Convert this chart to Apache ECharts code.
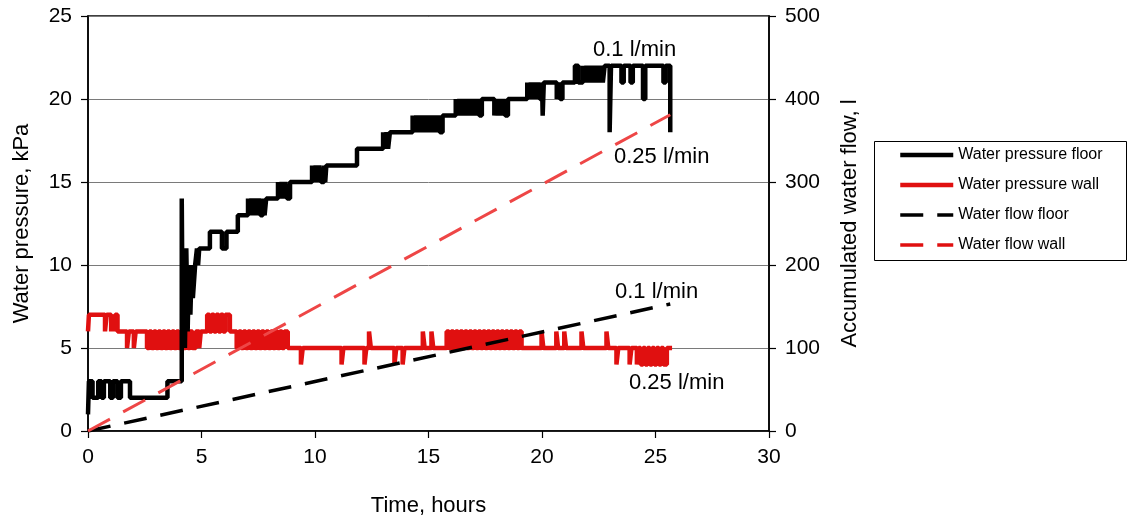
<!DOCTYPE html>
<html>
<head>
<meta charset="utf-8">
<script src="https://cdn.jsdelivr.net/npm/echarts@6/dist/echarts.min.js"></script>
<style>
  html, body { margin: 0; padding: 0; background: #fff; }
  #chart { width: 1129px; height: 522px; }
</style>
</head>
<body>
<div id="chart"></div>
<script>
// Logged water pressure (kPa) as change points [hours, kPa]; each value holds until the next point.
const floorPressure = [
  [0,1],[0.04,3],[0.2,2],[0.45,3],[0.6,2],[0.7,3],[0.98,2],[1.1,3],[1.3,2],[1.45,3],[1.85,2],
  [3.5,3],[4.13,14],[4.17,6],[4.22,11],[4.27,5],[4.33,11],[4.39,6],[4.45,10],[4.51,7],[4.57,10],
  [4.62,8],[4.67,9],[4.72,10],[4.8,11],[4.85,10],[4.9,11],[5.37,12],[5.9,11],[6.1,12],[6.6,13],
  [7.05,14],[7.12,13],[7.2,14],[7.28,13],[7.36,14],[7.44,13],[7.52,14],[7.6,13],[7.7,14],[7.78,13],[7.85,14],
  [8.37,15],[8.45,14],[8.53,15],[8.61,14],[8.69,15],[8.77,14],[8.9,15],
  [9.87,16],[9.95,15],[10.03,16],[10.11,15],[10.19,16],[10.27,15],[10.4,16],[10.45,15],[10.5,16],
  [11.85,17],[13.0,18],[13.08,17],[13.15,18],[13.22,17],[13.3,18],
  [14.3,19],[14.38,18],[14.46,19],[14.54,18],[14.62,19],[14.7,18],[14.78,19],[14.86,18],[14.94,19],
  [15.02,18],[15.1,19],[15.18,18],[15.26,19],[15.34,18],[15.42,19],[15.5,18],[15.62,19],
  [16.2,20],[16.28,19],[16.36,20],[16.44,19],[16.52,20],[16.6,19],[16.68,20],[16.76,19],[16.84,20],
  [16.92,19],[17.0,20],[17.08,19],[17.16,20],[17.24,19],[17.35,20],
  [17.9,19],[17.98,20],[18.06,19],[18.14,20],[18.22,19],[18.3,20],[18.38,19],[18.5,20],
  [19.35,21],[19.43,20],[19.51,21],[19.59,20],[19.67,21],[19.75,20],[19.83,21],[19.91,20],[20.0,21],
  [20.03,19],[20.08,21],[20.65,20],[20.72,21],[20.8,20],[20.9,21],[21.45,22],[21.6,21],
  [21.8,22],[21.88,21],[21.96,22],[22.04,21],[22.12,22],[22.2,21],[22.28,22],[22.36,21],[22.44,22],
  [22.52,21],[22.6,22],[22.68,21],[22.76,22],[22.98,18],[23.04,22],[23.5,21],[23.6,22],[23.9,21],
  [24.0,22],[24.45,20],[24.55,22],[25.35,21],[25.45,22],[25.65,18]
];
const wallPressure = [
  [0,6],[0.04,7],[0.75,6],[0.82,7],[1.02,6],[1.08,7],[1.14,6],[1.2,7],[1.3,6],[1.72,5],[1.8,6],[2.02,5],[2.1,6],
  [2.6,5],[2.7,6],[2.8,5],[2.9,6],[3.0,5],[3.1,6],[3.2,5],[3.3,6],[3.4,5],[3.5,6],[3.6,5],[3.7,6],
  [3.8,5],[3.9,6],[4.0,5],[4.1,6],[4.2,5],[4.3,6],[4.4,5],[4.5,6],[4.6,5],[4.75,6],[4.9,5],[4.97,6],
  [5.25,7],[5.35,6],[5.45,7],[5.55,6],[5.65,7],[5.75,6],[5.85,7],[5.95,6],[6.05,7],[6.25,6],
  [6.55,5],[6.65,6],[6.75,5],[6.85,6],[6.95,5],[7.05,6],[7.15,5],[7.25,6],[7.35,5],[7.45,6],[7.55,5],
  [7.65,6],[7.75,5],[7.85,6],[7.95,5],[8.05,6],[8.15,5],[8.25,6],[8.35,5],[8.45,6],[8.55,5],[8.65,6],[8.8,5],
  [9.38,4],[9.46,5],[11.17,4],[11.25,5],[12.18,4],[12.26,5],[12.38,6],[12.46,5],[13.5,4],[13.58,5],
  [13.86,4],[13.94,5],[14.75,6],[14.83,5],[15.13,6],[15.21,5],
  [15.8,6],[15.9,5],[16.0,6],[16.1,5],[16.2,6],[16.3,5],[16.4,6],[16.5,5],[16.6,6],[16.7,5],[16.8,6],
  [16.9,5],[17.0,6],[17.1,5],[17.2,6],[17.3,5],[17.4,6],[17.5,5],[17.6,6],[17.7,5],[17.8,6],[17.9,5],
  [18.0,6],[18.1,5],[18.2,6],[18.3,5],[18.4,6],[18.5,5],[18.6,6],[18.7,5],[18.8,6],[18.9,5],[19.0,6],[19.1,5],
  [19.98,6],[20.06,5],[20.63,6],[20.71,5],[20.98,6],[21.06,5],[21.74,6],[21.82,5],[22.84,6],[22.92,5],
  [23.28,4],[23.36,5],[23.86,4],[23.94,5],[24.18,4],[24.26,5],
  [24.35,4],[24.45,5],[24.55,4],[24.65,5],[24.75,4],[24.85,5],[24.95,4],[25.05,5],[25.15,4],[25.25,5],
  [25.35,4],[25.5,5],[25.73,5]
];

// Accumulated water flow (litres) at start and end of the test.
const flowHours = [0, 25.65];
const flowFloor = [0, 153];
const flowWall = [0, 381];

const seriesNames = ['Water pressure floor', 'Water pressure wall', 'Water flow floor', 'Water flow wall'];
const xTicks = { min: 0, max: 30, interval: 5 };
const pressureTicks = { min: 0, max: 25, interval: 5 };
const flowTicks = { min: 0, max: 500, interval: 100 };

const FONT = '"Liberation Sans", Arial, sans-serif';
const RED = '#e01010';
const FLOW_RED = '#ee4646';

const lineStyles = {
  'Water pressure floor': { color: '#000', width: 4.5, type: 'solid' },
  'Water pressure wall': { color: RED, width: 4.5, type: 'solid' },
  'Water flow floor': { color: '#000', width: 3.5, type: [23, 14] },
  'Water flow wall': { color: RED, width: 3.5, type: [23, 14] }
};

const chart = echarts.init(document.getElementById('chart'), null, { renderer: 'canvas' });

const axisCommon = {
  axisLine: { show: true, lineStyle: { color: '#000', width: 1.5 } },
  axisTick: { show: true, inside: false, length: 7, lineStyle: { color: '#000', width: 1.2 } },
  axisLabel: { color: '#000', fontSize: 21, fontFamily: FONT, margin: 16 },
  nameTextStyle: { color: '#000', fontSize: 22, fontFamily: FONT }
};

chart.setOption({
  animation: false,
  backgroundColor: '#fff',
  grid: { left: 88, right: 360, top: 16, bottom: 87, show: true, borderColor: '#000', borderWidth: 1.5 },
  legend: {
    data: seriesNames.map(n => ({
      name: n,
      itemStyle: { opacity: 0 },
      lineStyle: lineStyles[n]
    })),
    orient: 'vertical',
    left: 898,
    top: 147,
    padding: 0,
    itemWidth: 53,
    itemHeight: 14,
    itemGap: 14,
    textStyle: { color: '#000', fontSize: 16, fontFamily: FONT }
  },
  xAxis: Object.assign({}, axisCommon, {
    type: 'value',
    min: xTicks.min, max: xTicks.max, interval: xTicks.interval,
    name: 'Time, hours',
    nameLocation: 'middle',
    nameGap: 64,
    splitLine: { show: false }
  }),
  yAxis: [
    Object.assign({}, axisCommon, {
      type: 'value',
      position: 'left',
      min: pressureTicks.min, max: pressureTicks.max, interval: pressureTicks.interval,
      name: 'Water pressure, kPa',
      nameLocation: 'middle',
      nameGap: 55,
      splitLine: { show: true, lineStyle: { color: '#7a7a7a', width: 1 } }
    }),
    Object.assign({}, axisCommon, {
      type: 'value',
      position: 'right',
      min: flowTicks.min, max: flowTicks.max, interval: flowTicks.interval,
      name: 'Accumulated water flow, l',
      nameLocation: 'middle',
      nameGap: 70,
      nameRotate: 90,
      splitLine: { show: false }
    })
  ],
  series: [
    {
      name: 'Water pressure wall',
      type: 'line',
      step: 'end',
      yAxisIndex: 0,
      symbol: 'none',
      data: wallPressure,
      lineStyle: lineStyles['Water pressure wall'],
      itemStyle: { color: RED }
    },
    {
      name: 'Water pressure floor',
      type: 'line',
      step: 'end',
      yAxisIndex: 0,
      symbol: 'none',
      data: floorPressure,
      lineStyle: lineStyles['Water pressure floor'],
      itemStyle: { color: '#000' }
    },
    {
      name: 'Water flow floor',
      type: 'line',
      yAxisIndex: 1,
      symbol: 'none',
      data: flowHours.map((t, i) => [t, flowFloor[i]]),
      lineStyle: lineStyles['Water flow floor'],
      itemStyle: { color: '#000' }
    },
    {
      name: 'Water flow wall',
      type: 'line',
      yAxisIndex: 1,
      symbol: 'none',
      data: flowHours.map((t, i) => [t, flowWall[i]]),
      lineStyle: { color: FLOW_RED, width: 3, type: [25, 15] },
      itemStyle: { color: RED }
    }
  ],
  graphic: [
    { type: 'rect', shape: { x: 874.5, y: 141.5, width: 252, height: 119 },
      style: { fill: 'none', stroke: '#000', lineWidth: 1 }, z: -1 },
    { type: 'text', x: 593, y: 50, style: { text: '0.1 l/min', font: '22px ' + FONT, fill: '#000', verticalAlign: 'middle' } },
    { type: 'text', x: 614, y: 157, style: { text: '0.25 l/min', font: '22px ' + FONT, fill: '#000', verticalAlign: 'middle' } },
    { type: 'text', x: 615, y: 292, style: { text: '0.1 l/min', font: '22px ' + FONT, fill: '#000', verticalAlign: 'middle' } },
    { type: 'text', x: 629, y: 383, style: { text: '0.25 l/min', font: '22px ' + FONT, fill: '#000', verticalAlign: 'middle' } }
  ]
});
</script>
</body>
</html>
